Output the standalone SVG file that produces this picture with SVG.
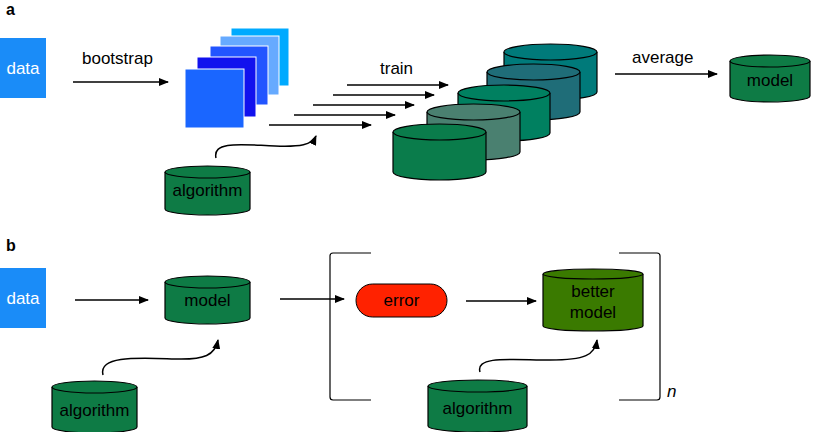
<svg xmlns="http://www.w3.org/2000/svg" width="830" height="432" viewBox="0 0 830 432">
<defs>
<marker id="ar" markerWidth="10" markerHeight="8" refX="9" refY="4" orient="auto" markerUnits="userSpaceOnUse"><path d="M0,0 L10,4 L0,8 Z" fill="#000"/></marker>
<style>
text{font-family:"Liberation Sans",Arial,sans-serif;font-size:17px;fill:#000}
.lbl{font-weight:bold;font-size:16px}
.w{fill:#fff}
.c{stroke:#000;stroke-width:1.2}
.ln{stroke:#000;stroke-width:1.5;fill:none;marker-end:url(#ar)}
.br{stroke:#000;stroke-width:1.2;fill:none}
</style>
</defs>
<text class="lbl" x="6" y="15">a</text>
<text class="lbl" x="6" y="251">b</text>
<g id="data-a"><rect x="0" y="38" width="46" height="60" fill="#1a8cf8"/><text class="w" x="23" y="74" text-anchor="middle">data</text></g>
<g id="squares">
<rect x="231" y="28" width="58" height="58" fill="#00aaff" stroke="#fff"/>
<rect x="220" y="36" width="59" height="59" fill="#66aaff" stroke="#fff"/>
<rect x="210" y="46" width="58" height="59" fill="#2255ff" stroke="#fff"/>
<rect x="197" y="57" width="59" height="60" fill="#1111ee" stroke="#fff"/>
<rect x="185" y="69" width="59" height="59" fill="#1a66ff" stroke="#fff"/>
</g>
<g id="ensemble">
<g><path d="M504,52 v40 a46.5,8 0 0 0 93,0 v-40" fill="#007a7a" class="c"/><ellipse cx="550.5" cy="52" rx="46.5" ry="8" fill="#007a7a" class="c"/></g>
<g><path d="M487,72 v40 a46.5,8 0 0 0 93,0 v-40" fill="#1f6d78" class="c"/><ellipse cx="533.5" cy="72" rx="46.5" ry="8" fill="#1f6d78" class="c"/></g>
<g><path d="M458,93 v40 a46,8 0 0 0 92,0 v-40" fill="#008060" class="c"/><ellipse cx="504" cy="93" rx="46" ry="8" fill="#008060" class="c"/></g>
<g><path d="M427,112 v40 a46.5,8 0 0 0 93,0 v-40" fill="#4a8070" class="c"/><ellipse cx="473.5" cy="112" rx="46.5" ry="8" fill="#4a8070" class="c"/></g>
<g><path d="M393,132 v40 a46.5,8 0 0 0 93,0 v-40" fill="#0a7c4b" class="c"/><ellipse cx="439.5" cy="132" rx="46.5" ry="8" fill="#0a7c4b" class="c"/></g>
</g>
<g id="algorithm-a"><path d="M165,172 v37 a42.5,6 0 0 0 85,0 v-37" fill="#0e7b45" class="c"/><ellipse cx="207.5" cy="172" rx="42.5" ry="6" fill="#0e7b45" class="c"/><text x="207.5" y="196" text-anchor="middle">algorithm</text></g>
<g id="model-a"><path d="M730,61 v35 a40,6 0 0 0 80,0 v-35" fill="#0e7b45" class="c"/><ellipse cx="770" cy="61" rx="40" ry="6" fill="#0e7b45" class="c"/><text x="770" y="86" text-anchor="middle">model</text></g>
<g id="data-b"><rect x="0" y="268" width="46" height="60" fill="#1a8cf8"/><text class="w" x="23" y="304" text-anchor="middle">data</text></g>
<g id="model-b"><path d="M165,282 v36 a42.5,6 0 0 0 85,0 v-36" fill="#0e7b45" class="c"/><ellipse cx="207.5" cy="282" rx="42.5" ry="6" fill="#0e7b45" class="c"/><text x="207.5" y="306" text-anchor="middle">model</text></g>
<g id="algorithm-b1"><path d="M52,387 v40 a42.5,6 0 0 0 85,0 v-40" fill="#0e7b45" class="c"/><ellipse cx="94.5" cy="387" rx="42.5" ry="6" fill="#0e7b45" class="c"/><text x="94.5" y="416" text-anchor="middle">algorithm</text></g>
<g id="error"><rect x="356" y="284" width="91" height="33" rx="16.5" fill="#ff2200" stroke="#000" stroke-width="1"/><text x="401.5" y="306" text-anchor="middle">error</text></g>
<g id="better-model"><path d="M543,274 v52 a50,5 0 0 0 100,0 v-52" fill="#3a7a00" class="c"/><ellipse cx="593" cy="274" rx="50" ry="5" fill="#3a7a00" class="c"/><text x="593" y="297" text-anchor="middle">better</text><text x="593" y="318" text-anchor="middle">model</text></g>
<g id="algorithm-b2"><path d="M428,386 v40 a49.5,6 0 0 0 99,0 v-40" fill="#0e7b45" class="c"/><ellipse cx="477.5" cy="386" rx="49.5" ry="6" fill="#0e7b45" class="c"/><text x="477.5" y="414" text-anchor="middle">algorithm</text></g>
<g id="bracket">
<path class="br" d="M371,253 H333 a3,3 0 0 0 -3,3 V397 a3,3 0 0 0 3,3 H371"/>
<path class="br" d="M619,253 H657 a3,3 0 0 1 3,3 V397 a3,3 0 0 1 -3,3 H619"/>
<text x="667" y="397" font-style="italic">n</text>
</g>
<g id="connectors">
<line class="ln" x1="73" y1="82" x2="168" y2="82"/>
<line class="ln" x1="347" y1="85" x2="448" y2="85"/>
<line class="ln" x1="333" y1="95" x2="434" y2="95"/>
<line class="ln" x1="313" y1="105" x2="414" y2="105"/>
<line class="ln" x1="294" y1="115" x2="395" y2="115"/>
<line class="ln" x1="269" y1="125" x2="371" y2="125"/>
<path class="ln" d="M216,158 C212,140 245,145 275,146 C300,147 312,145 316,136"/>
<line class="ln" x1="615" y1="74" x2="717" y2="74"/>
<line class="ln" x1="75" y1="300" x2="148" y2="300"/>
<path class="ln" d="M103,375 C98,355 140,358 175,359 C205,360 215,355 218,340"/>
<line class="ln" x1="280" y1="299" x2="344" y2="299"/>
<line class="ln" x1="466" y1="301" x2="536" y2="301"/>
<path class="ln" d="M480,372 C475,355 515,360 550,360 C585,360 595,355 597,340"/>
</g>
<text x="82" y="64">bootstrap</text>
<text x="380" y="74">train</text>
<text x="632" y="63">average</text>
</svg>
